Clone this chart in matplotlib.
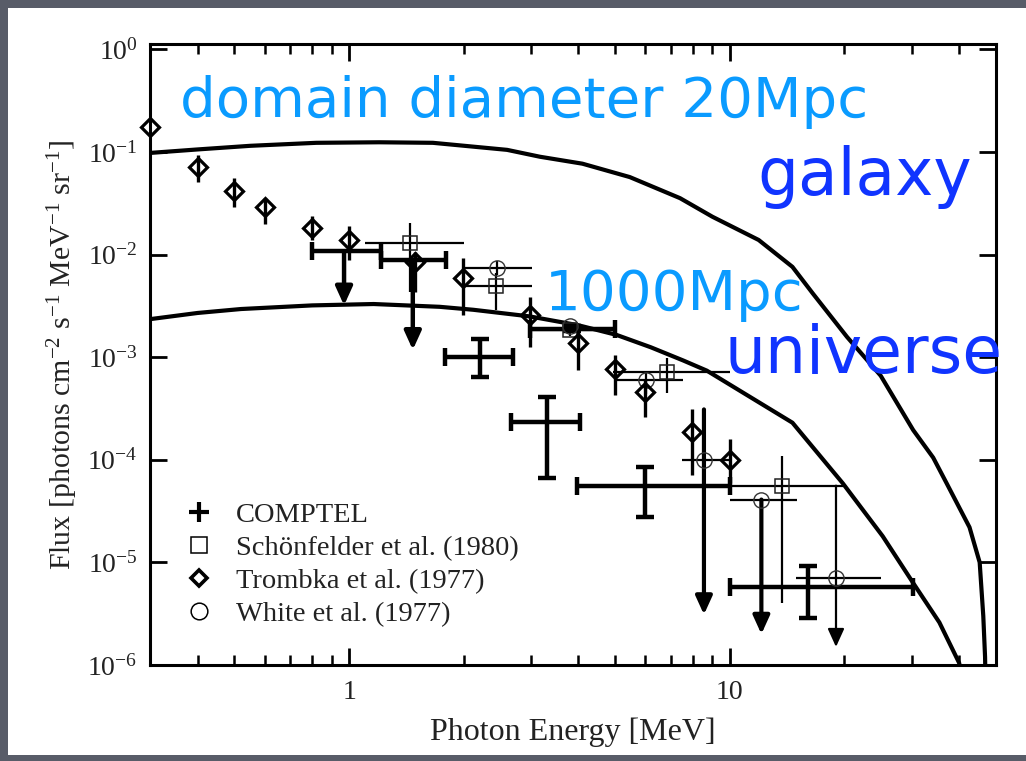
import matplotlib
matplotlib.use('Agg')
import matplotlib.pyplot as plt
from matplotlib.lines import Line2D
from matplotlib.patches import Rectangle
from matplotlib.ticker import FixedLocator, FuncFormatter, NullFormatter
import numpy as np

# ---------------- data ----------------
galaxy_E = [0.30, 0.40, 0.55, 0.82, 1.2, 1.66, 2.6, 3.17, 4.1, 5.46, 7.4, 9.0, 11.9, 14.6,
            16.5, 20.3, 24.9, 30.3, 34.2, 37.1, 42.6, 45.3, 46.3, 46.8, 47.0]
galaxy_F = [0.098, 0.106, 0.115, 0.123, 0.1245, 0.123, 0.105, 0.090, 0.077, 0.057, 0.0355,
            0.0234, 0.0139, 7.6e-3, 4.2e-3, 1.58e-3, 6.6e-4, 1.95e-4, 1.05e-4, 5.9e-5,
            2.2e-5, 1.0e-5, 3.0e-6, 1.2e-6, 5e-7]

universe_E = [0.30, 0.40, 0.52, 0.8, 1.16, 1.73, 2.12, 2.98, 4.0, 5.04, 6.2, 7.54, 8.7,
              11.3, 14.6, 19.8, 25.2, 30.3, 35.5, 40.0, 41.0]
universe_F = [2.35e-3, 2.7e-3, 2.95e-3, 3.2e-3, 3.3e-3, 3.1e-3, 2.9e-3, 2.5e-3, 2.05e-3,
              1.65e-3, 1.25e-3, 9.3e-4, 7.4e-4, 4.1e-4, 2.3e-4, 5.9e-5, 1.8e-5, 6.3e-6,
              2.6e-6, 1.05e-6, 7e-7]

# COMPTEL: measured points (cross) and upper limits (arrow)
comptel_E = [2.21, 3.30, 3.85, 5.98, 16.0]
comptel_Elo = [1.79, 2.67, 2.98, 3.96, 10.0]
comptel_Ehi = [2.70, 4.04, 4.98, 10.0, 30.3]
comptel_F = [1.01e-3, 2.34e-4, 1.9e-3, 5.6e-5, 5.8e-6]
comptel_Flo = [6.4e-4, 6.6e-5, 1.8e-3, 2.8e-5, 2.85e-6]
comptel_Fhi = [1.49e-3, 4.1e-4, 2.0e-3, 8.5e-5, 9.3e-6]

comptel_ul_E = [0.97, 1.47]
comptel_ul_Elo = [0.80, 1.21]
comptel_ul_Ehi = [1.21, 1.80]
comptel_ul_F = [1.08e-2, 8.9e-3]
comptel_ul_tip = [3.2e-3, 1.18e-3]

# Schoenfelder et al. (1980)
sch_E = [1.445, 2.43, 3.80, 6.85, 13.7]
sch_Elo = [1.10, 2.01, 3.0, 4.94, 10.0]
sch_Ehi = [2.0, 3.02, 5.0, 10.0, 19.8]
sch_F = [1.29e-2, 5.0e-3, 1.85e-3, 7.2e-4, 5.6e-5]
sch_Flo = [4.3e-3, 2.9e-3, 1.6e-3, 4.5e-4, 4.0e-6]
sch_Fhi = [2.04e-2, 6.6e-3, 2.1e-3, 9.8e-4, 1.1e-4]

# Trombka et al. (1977)
tro_E = [0.30, 0.40, 0.50, 0.60, 0.80, 1.00, 1.49, 1.99, 2.98, 3.99, 4.99, 6.0, 7.94, 10.0]
tro_F = [0.177, 0.072, 0.042, 0.029, 0.018, 0.014, 8.5e-3, 5.9e-3, 2.57e-3, 1.38e-3,
         7.6e-4, 4.6e-4, 1.87e-4, 1.0e-4]
tro_Flo = [0.177, 0.051, 0.029, 0.020, 0.014, 0.0089, 4.3e-3, 2.6e-3, 1.26e-3, 7.5e-4,
           4.3e-4, 2.6e-4, 7.1e-5, 6.0e-5]
tro_Fhi = [0.177, 0.093, 0.056, 0.036, 0.024, 0.019, 0.0106, 9.3e-3, 3.9e-3, 1.84e-3,
           1.05e-3, 6.0e-4, 3.1e-4, 1.6e-4]

# White et al. (1977)
white_E = [2.44, 3.80, 6.03, 8.55, 12.1, 19.0]
white_Elo = [1.99, 3.80, 4.98, 7.5, 10.0, 14.9]
white_Ehi = [3.02, 3.80, 7.53, 10.0, 15.0, 24.9]
white_F = [7.4e-3, 2.0e-3, 6.0e-4, 1.0e-4, 4.1e-5, 7.0e-6]
white_Fhi = [8.7e-3, 2.2e-3, 7.2e-4, 3.1e-4, 4.1e-5, 5.6e-5]
white_Flo = [6.3e-3, 1.8e-3, 4.4e-4, 3.1e-6, 2.0e-6, 1.5e-6]
white_is_ul = [False, False, False, True, True, True]
white_ul_thick = [False, False, False, True, True, False]

x_ticks = [1, 10]
x_ticklabels = ['1', '10']
y_ticks = [1e-6, 1e-5, 1e-4, 1e-3, 1e-2, 1e-1, 1e0]

legend_labels = ['COMPTEL', 'Schönfelder et al. (1980)', 'Trombka et al. (1977)',
                 'White et al. (1977)']

# ---------------- style ----------------
plt.rcParams['font.family'] = ['Liberation Serif', 'DejaVu Serif']
plt.rcParams['mathtext.fontset'] = 'custom'
plt.rcParams['mathtext.rm'] = 'Liberation Serif'
plt.rcParams['mathtext.it'] = 'Liberation Serif:italic'
plt.rcParams['mathtext.default'] = 'rm'

W, H = 1026, 761
fig = plt.figure(figsize=(W / 100, H / 100), dpi=100)
fig.patch.set_facecolor('#585c68')
fig.add_artist(Rectangle((8 / W, 6 / H), 1 - 8 / W, 1 - 14 / H, transform=fig.transFigure,
                         facecolor='white', edgecolor='none', zorder=-10))

ax = fig.add_axes([150 / W, 1 - 665 / H, 846 / W, 621 / H])
ax.set_facecolor('white')
ax.set_xscale('log')
ax.set_yscale('log')
ax.set_xlim(0.3, 50)
ax.set_ylim(1e-6, 1.13)

for s in ax.spines.values():
    s.set_linewidth(2.2)

# curves
ax.plot(galaxy_E, galaxy_F, color='k', lw=3.0, zorder=3)
ax.plot(universe_E, universe_F, color='k', lw=3.0, zorder=3)

def asym(c, lo, hi):
    c = np.array(c); lo = np.array(lo); hi = np.array(hi)
    return np.vstack([c - lo, hi - c])

# COMPTEL crosses
ax.errorbar(comptel_E, comptel_F, xerr=asym(comptel_E, comptel_Elo, comptel_Ehi),
            yerr=asym(comptel_F, comptel_Flo, comptel_Fhi), fmt='none', ecolor='k',
            elinewidth=3.2, capsize=6.5, capthick=3.2, zorder=4)
# COMPTEL upper limits
ax.errorbar(comptel_ul_E, comptel_ul_F, xerr=asym(comptel_ul_E, comptel_ul_Elo, comptel_ul_Ehi),
            fmt='none', ecolor='k', elinewidth=3.2, capsize=6.5, capthick=3.2, zorder=4)
for e, f, t in zip(comptel_ul_E, comptel_ul_F, comptel_ul_tip):
    ax.annotate('', xy=(e, t), xytext=(e, f),
                arrowprops=dict(arrowstyle='-|>,head_length=0.55,head_width=0.25',
                                mutation_scale=20, lw=3.2, color='k',
                                shrinkA=0, shrinkB=0), zorder=4)

# Schoenfelder
ax.errorbar(sch_E, sch_F, xerr=asym(sch_E, sch_Elo, sch_Ehi),
            yerr=asym(sch_F, sch_Flo, sch_Fhi), fmt='s', ms=10.5, mfc='none', mec='#222222',
            mew=1.1, ecolor='k', elinewidth=1.6, capsize=0, zorder=5)

# Trombka
ax.errorbar(tro_E, tro_F, yerr=asym(tro_F, tro_Flo, tro_Fhi), fmt='D', ms=9, mfc='none',
            mec='k', mew=2.3, ecolor='k', elinewidth=2.4, capsize=0, zorder=6, clip_on=False)

# White
for i in range(len(white_E)):
    e, f = white_E[i], white_F[i]
    xe = [[e - white_Elo[i]], [white_Ehi[i] - e]]
    if white_is_ul[i]:
        ax.errorbar([e], [f], xerr=xe, fmt='o', ms=11, mfc='none', mec='#333333', mew=1.0,
                    ecolor='k', elinewidth=1.6, capsize=0, zorder=5)
        lw = 3.0 if white_ul_thick[i] else 1.6
        ax.annotate('', xy=(e, white_Flo[i]), xytext=(e, white_Fhi[i]),
                    arrowprops=dict(arrowstyle='-|>,head_length=0.55,head_width=0.25',
                                    mutation_scale=20, lw=lw, color='k',
                                    shrinkA=0, shrinkB=0), zorder=4)
    else:
        ye = [[f - white_Flo[i]], [white_Fhi[i] - f]]
        ax.errorbar([e], [f], xerr=xe, yerr=ye, fmt='o', ms=11, mfc='none', mec='#333333',
                    mew=1.0, ecolor='k', elinewidth=1.6, capsize=0, zorder=5)

# ticks
ax.xaxis.set_major_locator(FixedLocator(x_ticks))
ax.xaxis.set_major_formatter(FuncFormatter(lambda v, p: x_ticklabels[x_ticks.index(round(v))]
                                           if round(v) in x_ticks else ''))
minor = [m * 10.0 ** d for d in (-1, 0, 1) for m in range(2, 10)]
minor = [v for v in minor if 0.3 < v < 50]
ax.xaxis.set_minor_locator(FixedLocator(minor))
ax.xaxis.set_minor_formatter(NullFormatter())
ax.yaxis.set_major_locator(FixedLocator(y_ticks))
ax.yaxis.set_major_formatter(FuncFormatter(lambda v, p: r'$10^{%d}$' % int(round(np.log10(v)))))
ax.yaxis.set_minor_locator(FixedLocator([]))
ax.tick_params(which='both', direction='in', top=True, right=True, color='k')
ax.tick_params(which='major', length=12, width=2.0, labelsize=20)
ax.tick_params(which='minor', length=7, width=1.8)
ax.tick_params(axis='x', which='major', pad=11)
ax.tick_params(axis='y', which='major', pad=9)
for lab in ax.get_xticklabels() + ax.get_yticklabels():
    lab.set_color('#222222')

ax.set_xlabel('Photon Energy [MeV]', fontsize=23, color='#222222', labelpad=9)
ax.set_ylabel(r'Flux [photons cm$^{-2}$ s$^{-1}$ MeV$^{-1}$ sr$^{-1}$]', fontsize=21.5,
              color='#222222', labelpad=5)

# legend
handles = [
    Line2D([], [], ls='none', marker='+', ms=14, mew=3, color='k'),
    Line2D([], [], ls='none', marker='s', ms=12, mfc='none', mec='k', mew=1.1),
    Line2D([], [], ls='none', marker='D', ms=8.5, mfc='none', mec='k', mew=2.6),
    Line2D([], [], ls='none', marker='o', ms=12, mfc='none', mec='k', mew=1.1),
]
leg = ax.legend(handles, legend_labels, loc='upper left', bbox_to_anchor=(0.028, 0.28),
                frameon=False, fontsize=20.5, handlelength=1.0, handletextpad=0.8,
                labelspacing=0.24, borderaxespad=0)
for t in leg.get_texts():
    t.set_color('#222222')

# annotations
light = '#0a9bff'
dark = '#1034ff'
fig.text(180 / W, 1 - 117 / H, 'domain diameter 20Mpc', color=light, fontsize=40.5,
         family='DejaVu Sans', ha='left', va='baseline')
fig.text(757 / W, 1 - 195 / H, 'galaxy', color=dark, fontsize=46.5,
         family='DejaVu Sans', ha='left', va='baseline')
fig.text(545 / W, 1 - 310 / H, '1000Mpc', color=light, fontsize=40.5,
         family='DejaVu Sans', ha='left', va='baseline')
fig.text(725 / W, 1 - 373 / H, 'universe', color=dark, fontsize=46.5,
         family='DejaVu Sans', ha='left', va='baseline', zorder=10)

fig.savefig('out.png', dpi=100, facecolor=fig.get_facecolor())
